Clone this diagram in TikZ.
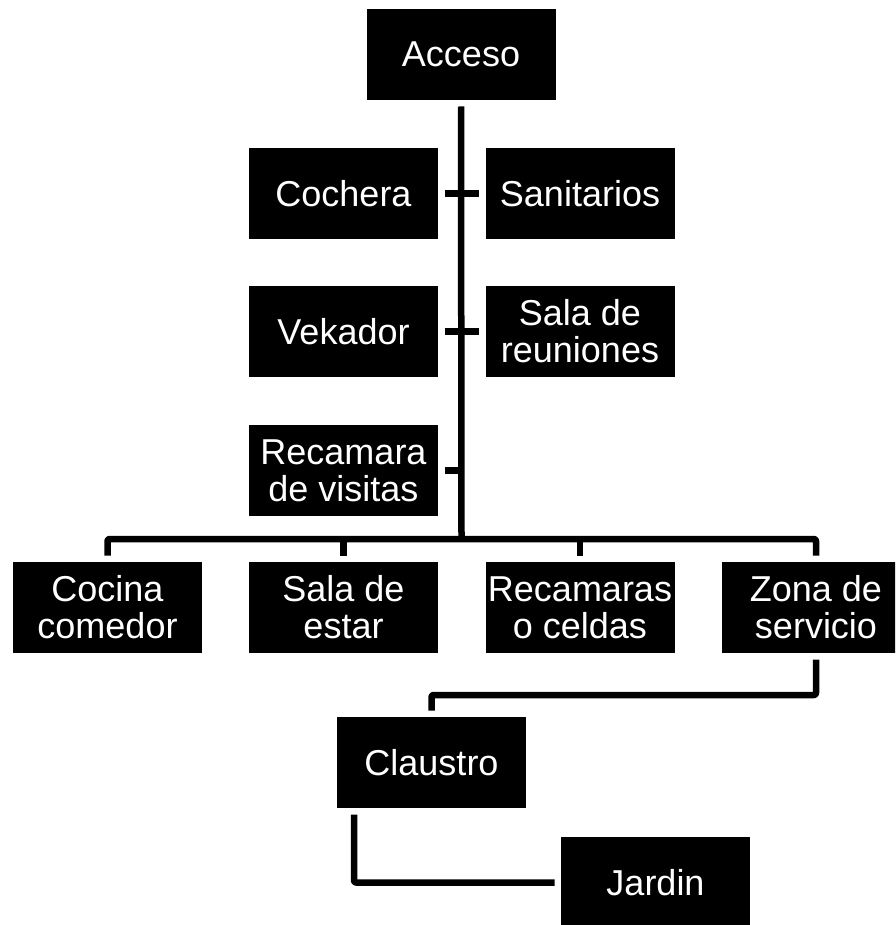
\documentclass[tikz,border=0pt]{standalone}
\usepackage{fontspec}
\setmainfont{Liberation Sans}
\begin{document}
\begin{tikzpicture}[x=1pt,y=-1pt,
  room/.style={fill=black,text=white,minimum width=189pt,minimum height=91pt,
    inner sep=0pt,outer sep=6.5pt,align=center,
    font=\fontsize{36}{37}\selectfont},
  link/.style={draw=black,line width=6.5pt,line join=round,rounded corners=2pt}]
\useasboundingbox (0,0) rectangle (895,925);
\clip (0,0) rectangle (895,925);
\node[room] (acceso) at (461,54.5) {Acceso};
\node[room] (cochera) at (343.5,193.5) {Cochera};
\node[room] (sanit) at (580,193.5) {Sanitarios};
\node[room] (vekador) at (343.5,331.5) {Vekador};
\node[room] (reun) at (580,331.5) {Sala de\\reuniones};
\node[room] (visitas) at (343.5,470.5) {Recamara\\de visitas};
\node[room] (cocina) at (107.5,607.5) {Cocina\\comedor};
\node[room] (estar) at (343.5,607.5) {Sala de\\estar};
\node[room] (celdas) at (580,607.5) {Recamaras\\o celdas};
\node[room] (zona) at (816,607.5) {Zona de\\servicio};
\node[room] (claustro) at (431.5,762.5) {Claustro};
\node[room] (jardin) at (655.5,882.5) {Jardin};
\coordinate (j) at (461.5,539);
\coordinate (t3) at (461.5,470.5);
\coordinate (m) at (816,695);
\draw[link] (acceso.south) -- (j);
\draw[link] (cochera.east) -- (sanit.west);
\draw[link] (vekador.east) -- (reun.west);
\draw[link] (visitas.east) -- (t3);
\draw[link] (cocina.north) |- (j) -| (zona.north);
\draw[link] (estar.north) -- (estar.north |- j);
\draw[link] (celdas.north) -- (celdas.north |- j);
\draw[link] (zona.south) -- (m) -| (claustro.north);
\draw[link] ([xshift=23.5pt]claustro.south west) |- (jardin.west);
\end{tikzpicture}
\end{document}
